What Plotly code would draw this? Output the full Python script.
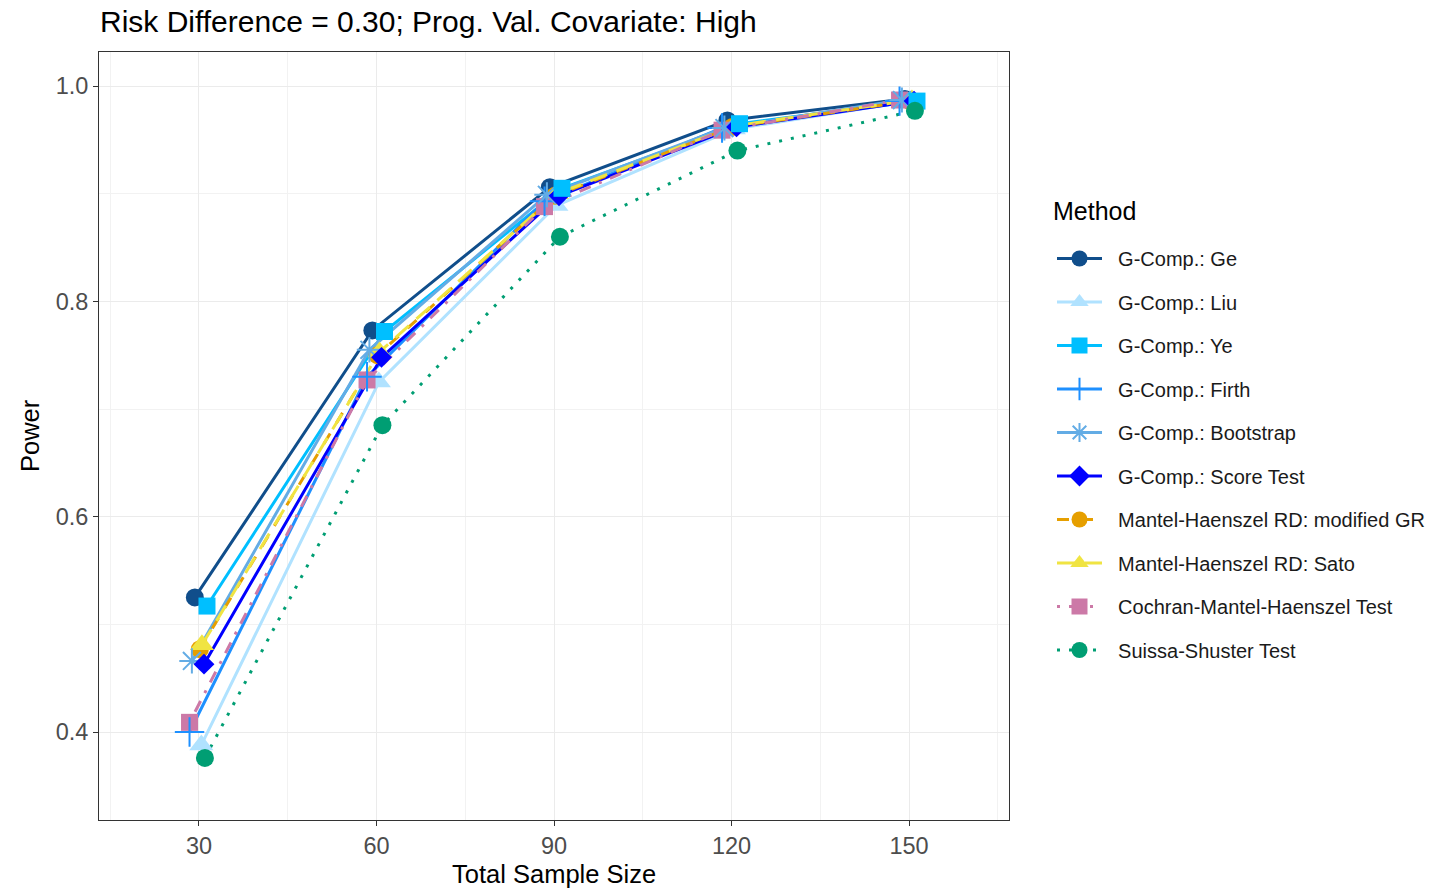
import plotly.graph_objects as go

# ---------------- data ----------------
sample_sizes = [30, 60, 90, 120, 150]
methods = [
    "G-Comp.: Ge", "G-Comp.: Liu", "G-Comp.: Ye", "G-Comp.: Firth",
    "G-Comp.: Bootstrap", "G-Comp.: Score Test",
    "Mantel-Haenszel RD: modified GR", "Mantel-Haenszel RD: Sato",
    "Cochran-Mantel-Haenszel Test", "Suissa-Shuster Test",
]
power_ge        = [0.525, 0.773, 0.906, 0.968, 0.988]
power_liu       = [0.388, 0.725, 0.889, 0.960, 0.986]
power_ye        = [0.517, 0.772, 0.905, 0.965, 0.986]
power_firth     = [0.400, 0.730, 0.893, 0.961, 0.986]
power_bootstrap = [0.466, 0.755, 0.899, 0.961, 0.987]
power_score     = [0.463, 0.748, 0.898, 0.962, 0.986]
power_mh_gr     = [0.477, 0.750, 0.898, 0.962, 0.986]
power_mh_sato   = [0.481, 0.753, 0.900, 0.963, 0.987]
power_cmh       = [0.409, 0.727, 0.888, 0.959, 0.987]
power_ss        = [0.376, 0.685, 0.860, 0.940, 0.977]
power = [power_ge, power_liu, power_ye, power_firth, power_bootstrap,
         power_score, power_mh_gr, power_mh_sato, power_cmh, power_ss]

x_ticks = [30, 60, 90, 120, 150]
y_ticks = [0.4, 0.6, 0.8, 1.0]

# ---------------- style ----------------
colors = ["#104E8B", "#B0E2FF", "#00BFFF", "#1E90FF", "#63ACE5", "#0000FF",
          "#E69F00", "#F0E442", "#CC79A7", "#009E73"]
symbols = ["circle", "triangle-up", "square", "cross-thin-open", "asterisk-open",
           "diamond", "circle", "triangle-up", "square", "circle"]
sizes = [18, 21, 17, 21, 21, 16, 18, 21, 17, 18]
dashes = ["solid"] * 6 + ["12px,12px", "18px,10px", "3px,9px,12px,9px", "3px,9px"]
# horizontal jitter (x units) so overlapping markers are visible
dodge = [-0.7, 0.4, 1.35, -1.6, -1.2, 0.85, 0.15, 0.5, -1.6, 1.0]
# marker drawing order (later = on top)
marker_order = [0, 1, 6, 7, 8, 3, 4, 5, 2, 9]

FONT = "Liberation Sans, Arial, sans-serif"
NBSP = "\u00a0"

# figure placed at (8, 8) by page body margin
W, H = 1448, 883
L, T, R, B = 91, 44, 447, 71
PW, PH = W - L - R, H - T - B


def px_x(v):  # figure px -> paper x
    return (v - L) / PW


def px_y(v):  # figure px -> paper y
    return 1 - (v - T) / PH


fig = go.Figure()

# lines first (under all points)
for i, m in enumerate(methods):
    fig.add_trace(go.Scatter(
        x=[s + dodge[i] for s in sample_sizes], y=power[i], mode="lines",
        line=dict(color=colors[i], width=3, dash=dashes[i]),
        showlegend=False, hoverinfo="skip"))

# points
for i in marker_order:
    open_sym = symbols[i].endswith("open")
    fig.add_trace(go.Scatter(
        x=[s + dodge[i] for s in sample_sizes], y=power[i], mode="markers",
        marker=dict(symbol=symbols[i], size=sizes[i], color=colors[i],
                    line=dict(color=colors[i], width=2 if open_sym else 0)),
        showlegend=False, name=methods[i]))

# legend entries
for i, m in enumerate(methods):
    open_sym = symbols[i].endswith("open")
    fig.add_trace(go.Scatter(
        x=[None], y=[None], mode="lines+markers", name=NBSP * 2 + m, legendgroup=m,
        line=dict(color=colors[i], width=3, dash=dashes[i]),
        marker=dict(symbol=symbols[i], size=sizes[i] + 2, color=colors[i],
                    line=dict(color=colors[i], width=2 if open_sym else 0))))

axis_common = dict(
    showline=True, mirror=True, linecolor="#333333", linewidth=1,
    showgrid=True, gridcolor="#EBEBEB", gridwidth=1.3,
    ticks="outside", ticklen=5, tickcolor="#333333", tickwidth=1,
    tickfont=dict(family=FONT, size=23.5, color="#4D4D4D"),
    zeroline=False, automargin=False,
)

fig.update_layout(
    width=W, height=H,
    paper_bgcolor="white", plot_bgcolor="white",
    margin=dict(l=L, r=R, t=T, b=B),
    font=dict(family=FONT, color="black"),
    title=dict(text="Risk Difference = 0.30; Prog. Val. Covariate: High",
               x=92 / W, xanchor="left", xref="container",
               y=1 - 13 / H, yanchor="middle", yref="container",
               font=dict(family=FONT, size=30, color="black")),
    xaxis=dict(range=[13.1, 166.9], tickvals=x_ticks,
               ticktext=[str(v) for v in x_ticks],
               minor=dict(tick0=15, dtick=30, showgrid=True,
                          gridcolor="#F2F2F2", gridwidth=0.8, ticks=""),
               **axis_common),
    yaxis=dict(range=[0.3183, 1.0316], tickvals=y_ticks,
               ticktext=[f"{v:.1f}" for v in y_ticks],
               minor=dict(tick0=0.3, dtick=0.2, showgrid=True,
                          gridcolor="#F2F2F2", gridwidth=0.8, ticks=""),
               **axis_common),
    legend=dict(x=px_x(1044), xanchor="left",
                y=px_y(231), yanchor="top",
                font=dict(family=FONT, size=20, color="#1A1A1A"),
                tracegroupgap=14.5, itemwidth=45,
                bgcolor="rgba(0,0,0,0)"),
    annotations=[
        dict(text="Method", xref="paper", yref="paper",
             x=px_x(1043), y=px_y(203), xanchor="left", yanchor="middle",
             showarrow=False, font=dict(family=FONT, size=25, color="black")),
        dict(text="Total Sample Size", xref="paper", yref="paper",
             x=px_x(546), y=px_y(866), xanchor="center", yanchor="middle",
             showarrow=False, font=dict(family=FONT, size=25.5, color="black")),
        dict(text="Power", xref="paper", yref="paper", textangle=-90,
             x=px_x(22), y=px_y(428), xanchor="center", yanchor="middle",
             showarrow=False, font=dict(family=FONT, size=25.5, color="black")),
    ],
)

fig.write_html("out.html")
